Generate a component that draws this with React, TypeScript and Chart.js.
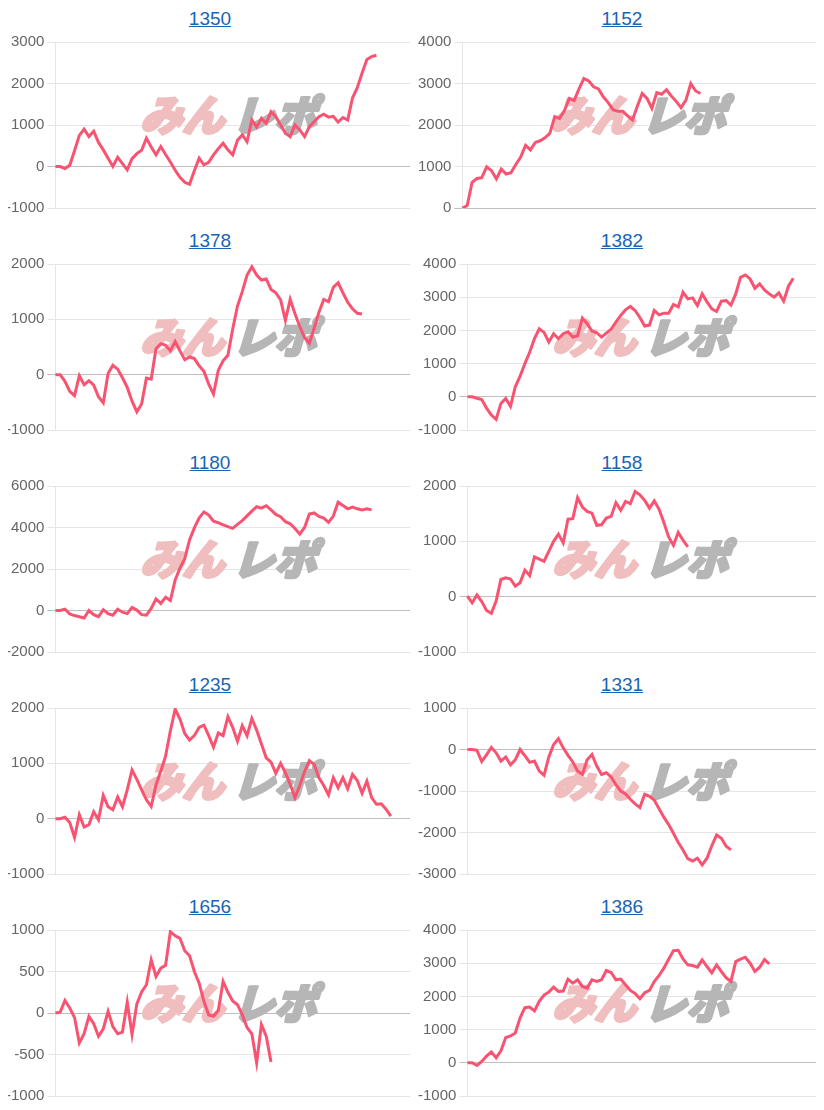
import React, { useEffect, useRef } from "react";
import { Chart, registerables } from "chart.js";

Chart.register(...registerables);

const titles = ["1350", "1152", "1378", "1382", "1180", "1158", "1235", "1331", "1656", "1386"];
const categories = Array.from({ length: 75 }, (_, i) => String(i + 1));

const s1350 = [0, 0, -50, 30, 380, 750, 900, 720, 850, 580, 400, 200, 0, 220, 70, -80, 190, 310, 390, 680, 470, 280, 480, 290, 110, -90, -260, -380, -430, -100, 200, 40, 100, 280, 430, 560, 400, 280, 630, 760, 600, 1120, 950, 1160, 1040, 1320, 1200, 1000, 800, 720, 1000, 880, 720, 960, 1080, 1200, 1260, 1190, 1210, 1070, 1180, 1120, 1650, 1900, 2250, 2580, 2650, 2680];
const s1152 = [0, 60, 620, 710, 730, 990, 900, 700, 940, 820, 850, 1050, 1230, 1510, 1400, 1580, 1620, 1690, 1800, 2200, 2160, 2350, 2640, 2590, 2870, 3120, 3060, 2920, 2870, 2680, 2540, 2370, 2330, 2330, 2220, 2120, 2450, 2760, 2640, 2400, 2780, 2740, 2850, 2700, 2570, 2420, 2600, 3000, 2820, 2760];
const s1378 = [0, 0, -120, -300, -380, -20, -180, -110, -190, -400, -510, 20, 170, 100, -55, -230, -480, -670, -530, -60, -80, 470, 560, 530, 430, 600, 430, 270, 320, 290, 160, 60, -170, -350, 80, 250, 350, 820, 1240, 1500, 1800, 1950, 1800, 1710, 1730, 1540, 1480, 1350, 980, 1360, 1100, 870, 670, 570, 840, 1130, 1360, 1320, 1580, 1660, 1480, 1310, 1190, 1110, 1095];
const s1382 = [0, 0, -45, -80, -340, -550, -680, -200, -50, -290, 300, 620, 1000, 1340, 1750, 2050, 1940, 1650, 1900, 1750, 1900, 1960, 1800, 1840, 2370, 2200, 1980, 1930, 1800, 1920, 2040, 2250, 2450, 2620, 2720, 2600, 2390, 2130, 2160, 2600, 2470, 2520, 2520, 2780, 2710, 3150, 2950, 2980, 2750, 3100, 2860, 2650, 2570, 2880, 2900, 2760, 3100, 3600, 3670, 3550, 3270, 3400, 3220, 3100, 3000, 3130, 2880, 3330, 3570];
const s1180 = [0, 0, 60, -170, -245, -300, -360, 0, -200, -300, 40, -150, -230, 60, -80, -150, 150, 20, -200, -220, 100, 560, 340, 640, 480, 1470, 2040, 2500, 3400, 3980, 4450, 4750, 4600, 4300, 4230, 4130, 4040, 3960, 4150, 4330, 4560, 4790, 5000, 4930, 5050, 4850, 4630, 4520, 4280, 4180, 3950, 3680, 4000, 4650, 4700, 4530, 4450, 4250, 4550, 5220, 5060, 4900, 4980, 4900, 4850, 4900, 4850];
const s1158 = [10, -110, 30, -90, -250, -300, -80, 310, 340, 320, 190, 250, 480, 380, 720, 680, 640, 820, 1000, 1130, 970, 1400, 1410, 1790, 1620, 1540, 1510, 1290, 1300, 1420, 1450, 1700, 1560, 1720, 1680, 1900, 1840, 1740, 1600, 1730, 1580, 1340, 1080, 930, 1160, 1020, 900];
const s1235 = [0, 0, 25, -70, -340, 70, -150, -110, 125, -20, 420, 215, 160, 390, 215, 520, 880, 710, 520, 340, 220, 610, 860, 1130, 1590, 1980, 1800, 1540, 1420, 1500, 1650, 1690, 1500, 1290, 1550, 1500, 1840, 1650, 1400, 1680, 1500, 1810, 1600, 1350, 1100, 1020, 820, 1000, 830, 620, 380, 600, 850, 1050, 980, 740, 600, 430, 740, 560, 740, 540, 800, 690, 460, 680, 380, 260, 270, 170, 45];
const s1331 = [0, 0, -20, -290, -130, 50, -80, -280, -180, -370, -250, 0, -150, -310, -280, -520, -620, -180, 120, 260, 40, -140, -300, -520, -600, -250, -120, -400, -600, -560, -660, -850, -1000, -1070, -1200, -1310, -1400, -1080, -1130, -1220, -1430, -1630, -1810, -2020, -2240, -2420, -2630, -2690, -2620, -2780, -2620, -2320, -2060, -2140, -2330, -2420];
const s1656 = [0, 10, 150, 60, -55, -360, -250, -40, -130, -280, -190, 20, -165, -250, -230, 130, -260, 110, 255, 340, 640, 440, 540, 575, 980, 930, 900, 750, 690, 500, 360, 140, -25, -40, 30, 380, 250, 145, 100, -20, -175, -250, -600, -140, -280, -590];
const s1386 = [0, 0, -80, 40, 200, 330, 150, 360, 760, 810, 900, 1355, 1660, 1680, 1560, 1850, 2040, 2130, 2280, 2150, 2160, 2520, 2400, 2500, 2300, 2250, 2500, 2450, 2500, 2780, 2720, 2500, 2520, 2350, 2180, 2090, 1930, 2110, 2180, 2450, 2630, 2850, 3120, 3380, 3390, 3130, 2950, 2930, 2880, 3100, 2900, 2710, 2950, 2750, 2560, 2450, 3050, 3120, 3180, 3000, 2750, 2880, 3110, 2980];

const seriesList = [s1350, s1152, s1378, s1382, s1180, s1158, s1235, s1331, s1656, s1386];
const yMins = [-1000, 0, -1000, -1000, -2000, -1000, -1000, -3000, -1000, -1000];
const yMaxs = [3000, 4000, 2000, 4000, 6000, 2000, 2000, 1000, 1000, 4000];
const ySteps = [1000, 1000, 1000, 1000, 2000, 1000, 1000, 1000, 500, 1000];

const LINE_COLOR = "rgb(248, 84, 114)";
const FONT = "'Liberation Sans', Arial, Helvetica, sans-serif";

const watermark = {
  id: "watermark",
  beforeDatasetsDraw(chart: any) {
    const { ctx, chartArea: a } = chart;
    const cx = (a.left + a.right) / 2;
    const cy = (a.top + a.bottom) / 2 - 10;
    ctx.save();
    ctx.translate(cx, cy);
    ctx.transform(1, 0, -0.3, 1, 0, 0);
    ctx.font = "900 42px 'Noto Sans CJK JP', sans-serif";
    ctx.textBaseline = "middle";
    ctx.lineJoin = "round";
    ctx.lineWidth = 3;
    ctx.textAlign = "right";
    ctx.fillStyle = "rgb(240, 190, 190)";
    ctx.strokeStyle = "rgb(240, 190, 190)";
    ctx.strokeText("みん", -4, 0);
    ctx.fillText("みん", -4, 0);
    ctx.textAlign = "left";
    ctx.fillStyle = "rgb(182, 182, 182)";
    ctx.strokeStyle = "rgb(182, 182, 182)";
    ctx.strokeText("レポ", 4, 0);
    ctx.fillText("レポ", 4, 0);
    ctx.restore();
  },
};

function MiniChart({ index }: { index: number }) {
  const ref = useRef<HTMLCanvasElement | null>(null);
  useEffect(() => {
    if (!ref.current) return;
    const chart = new Chart(ref.current, {
      type: "line",
      data: {
        labels: categories,
        datasets: [
          {
            data: seriesList[index],
            borderColor: LINE_COLOR,
            backgroundColor: LINE_COLOR,
            borderWidth: 3,
            pointRadius: 0,
            pointHoverRadius: 0,
            tension: 0,
            fill: false,
          },
        ],
      },
      options: {
        animation: false,
        responsive: true,
        maintainAspectRatio: false,
        events: [],
        layout: { padding: { top: 3, bottom: 5, left: 0, right: 2 } },
        plugins: {
          legend: { display: false },
          tooltip: { enabled: false },
          title: { display: false },
        },
        scales: {
          x: { display: false },
          y: {
            min: yMins[index],
            max: yMaxs[index],
            ticks: {
              stepSize: ySteps[index],
              color: "#666",
              font: { size: 15, family: FONT },
              padding: 3,
              callback: (v: any) => String(v),
            },
            grid: {
              color: (c: any) =>
                c.tick && c.tick.value === 0 ? "rgba(0,0,0,0.25)" : "rgba(0,0,0,0.1)",
              tickLength: 8,
            },
            border: { display: true, color: "rgba(0,0,0,0.1)" },
          },
        },
      },
      plugins: [watermark],
    } as any);
    return () => chart.destroy();
  }, [index]);

  const row = Math.floor(index / 2);
  const col = index % 2;
  return (
    <div
      style={{
        position: "absolute",
        left: col * 412,
        top: row * 222,
        width: 404,
        height: 212,
      }}
    >
      <div
        style={{
          height: 22,
          lineHeight: "22px",
          textAlign: "center",
          fontFamily: FONT,
          fontSize: 19,
        }}
      >
        <a href="#" style={{ color: "#1a64b4", textDecoration: "underline" }}>
          {titles[index]}
        </a>
      </div>
      <div style={{ position: "absolute", top: 22, left: -5, width: 409, height: 190 }}>
        <canvas ref={ref} />
      </div>
    </div>
  );
}

export default function App() {
  return (
    <div style={{ position: "relative", width: 808, height: 1094 }}>
      {titles.map((_, i) => (
        <MiniChart key={i} index={i} />
      ))}
    </div>
  );
}
